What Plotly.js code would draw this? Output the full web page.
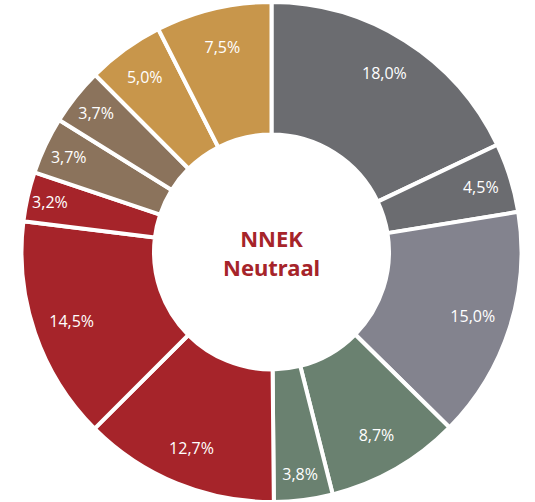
<!DOCTYPE html>
<html><head><meta charset="utf-8">
<script src="https://cdn.plot.ly/plotly-3.0.1.min.js"></script>
<style>html,body{margin:0;padding:0;background:#fff}#chart{width:535px;height:502px}</style>
</head><body><div id="chart"></div>
<script>
const categories = ["A1","A2","B1","C1","C2","D1","D2","D3","E1","E2","F1","F2"];
const values = [18.0, 4.5, 15.0, 8.7, 3.8, 12.7, 14.5, 3.2, 3.7, 3.7, 5.0, 7.5];
const labels = ["18,0%","4,5%","15,0%","8,7%","3,8%","12,7%","14,5%","3,2%","3,7%","3,7%","5,0%","7,5%"];
const colors = ["#6b6c70","#6b6c70","#83838e","#6a8170","#6a8170","#a6242a","#a6242a","#a6242a","#8b735c","#8b735c","#c8964b","#c8964b"];
const centerTitle = "NNEK<br>Neutraal";

const common = {
  type: "pie",
  labels: categories,
  values: values,
  sort: false,
  direction: "clockwise",
  rotation: 0,
  hoverinfo: "none",
  domain: {x: [0, 1], y: [0, 1]}
};

Plotly.newPlot("chart", [
  Object.assign({}, common, {
    hole: 0.47,
    textinfo: "none",
    marker: {colors: colors, line: {color: "#ffffff", width: 4}}
  }),
  Object.assign({}, common, {
    hole: 0.69,
    text: labels,
    textinfo: "text",
    textposition: "inside",
    insidetextorientation: "horizontal",
    marker: {colors: values.map(() => "rgba(0,0,0,0)"), line: {width: 0}},
    textfont: {family: "Open Sans, sans-serif", size: 16, color: "#ffffff"}
  })
], {
  width: 535, height: 502,
  margin: {l: 8, r: 0, t: 2, b: 0},
  showlegend: false,
  paper_bgcolor: "#ffffff",
  annotations: [{
    text: "<b>" + centerTitle + "</b>",
    x: 0.5, y: 0.5, xref: "paper", yref: "paper",
    showarrow: false,
    font: {family: "Noto Sans, sans-serif", size: 22, color: "#a6242a"}
  }]
}, {staticPlot: true});
</script></body></html>
